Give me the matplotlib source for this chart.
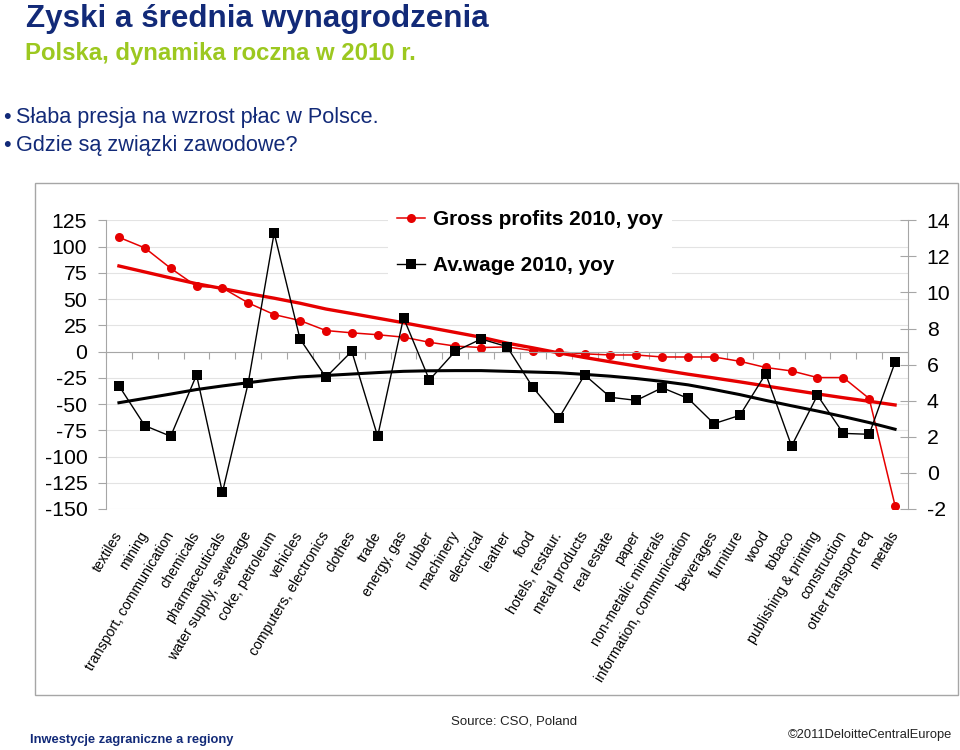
import numpy as np
import matplotlib
matplotlib.use('Agg')
import matplotlib.pyplot as plt
from matplotlib import font_manager as fm
from matplotlib.lines import Line2D
from matplotlib.patches import Rectangle

categories = ["textiles", "mining", "transport, communication", "chemicals",
              "pharmaceuticals", "water supply, sewerage", "coke, petroleum",
              "vehicles", "computers, electronics", "clothes", "trade",
              "energy, gas", "rubber", "machinery", "electrical", "leather",
              "food", "hotels, restaur.", "metal products", "real estate",
              "paper", "non-metalic minerals", "information, communication",
              "beverages", "furniture", "wood", "tobaco",
              "publishing & printing", "construction", "other transport eq",
              "metals"]

gross_profits = [108.8, 98.7, 79.3, 62.2, 60.6, 46.3, 35.2, 29.5, 20.0, 17.8,
                 16.0, 13.7, 8.8, 5.2, 3.8, 4.4, 0.8, -0.4, -2.2, -3.3,
                 -3.3, -5.2, -5.2, -5.2, -9.3, -15.2, -18.5, -24.8, -24.8,
                 -44.8, -146.8]

av_wage = [4.83, 2.62, 2.03, 5.43, -1.08, 5.00, 13.30, 7.42, 5.30, 6.74,
           2.03, 8.60, 5.15, 6.74, 7.42, 7.00, 4.74, 3.02, 5.43, 4.19,
           4.02, 4.72, 4.13, 2.73, 3.19, 5.49, 1.49, 4.30, 2.19, 2.14, 6.13]

profits_trend = [81.5, 75.8, 70.1, 64.6, 60.0, 55.2, 50.8, 46.0, 40.5, 36.2,
                 31.8, 27.4, 22.8, 18.2, 13.6, 8.0, 3.5, -1.3, -5.7, -9.8,
                 -13.8, -17.7, -21.6, -25.2, -28.9, -32.8, -36.6, -40.4,
                 -44.0, -47.4, -50.9]

wage_trend = [3.89, 4.13, 4.37, 4.62, 4.82, 5.00, 5.18, 5.32, 5.40, 5.48,
              5.56, 5.63, 5.66, 5.67, 5.67, 5.63, 5.59, 5.55, 5.46, 5.36,
              5.23, 5.07, 4.88, 4.62, 4.34, 4.02, 3.72, 3.43, 3.12, 2.79,
              2.42]

left_ticks = [125, 100, 75, 50, 25, 0, -25, -50, -75, -100, -125, -150]
right_ticks = [14, 12, 10, 8, 6, 4, 2, 0, -2]

legend_labels = ["Gross profits 2010, yoy", "Av.wage 2010, yoy"]

names = {f.name for f in fm.fontManager.ttflist}
HAS_NARROW = 'Liberation Sans Narrow' in names
BASE = 'Liberation Sans'
NARROW = 'Liberation Sans Narrow' if HAS_NARROW else BASE
k = 1.0 if HAS_NARROW else 0.83

plt.rcParams['font.family'] = [BASE, 'DejaVu Sans']
plt.rcParams['axes.unicode_minus'] = False

W, H = 960, 750
fig = plt.figure(figsize=(9.6, 7.5), dpi=100)


def fx(px):
    return px / W


def fy(py):
    return 1 - py / H


NAVY = '#122a78'
GREEN = '#9cc820'
RED = '#e60000'
GREY = '#a6a6a6'

fig.text(fx(26), fy(27), 'Zyski a średnia wynagrodzenia', fontsize=22.6,
         fontweight='bold', color=NAVY, va='baseline')
fig.text(fx(25), fy(60), 'Polska, dynamika roczna w 2010 r.', fontsize=17.2,
         fontweight='bold', color=GREEN, va='baseline')
fig.text(fx(3), fy(122.7), '•', fontsize=15.6, color=NAVY, va='baseline')
fig.text(fx(16), fy(122.7), 'Słaba presja na wzrost płac w Polsce.',
         fontsize=15.6, color=NAVY, va='baseline')
fig.text(fx(3), fy(150.7), '•', fontsize=15.6, color=NAVY, va='baseline')
fig.text(fx(16), fy(150.7), 'Gdzie są związki zawodowe?',
         fontsize=15.6, color=NAVY, va='baseline')

fig.patches.append(Rectangle((fx(35), fy(695)), fx(923), (695 - 183) / H,
                             transform=fig.transFigure, fill=False,
                             edgecolor=GREY, lw=1.0))

fig.text(fx(30), fy(743), 'Inwestycje zagraniczne a regiony', fontsize=9.3,
         fontweight='bold', color=NAVY, va='baseline', family=NARROW)
fig.text(fx(451), fy(725), 'Source: CSO, Poland', fontsize=9.5,
         color='#222222', va='baseline')
fig.text(fx(952), fy(738), '©2011DeloitteCentralEurope', fontsize=9.3,
         color='#222222', va='baseline', ha='right')

ax = fig.add_axes([fx(106), fy(509), fx(908 - 106), (509 - 220.3) / H])
x = np.arange(len(categories))
ax.set_xlim(-0.5, len(categories) - 0.5)
ax.set_ylim(-150, 125)
ax.set_yticks(left_ticks)
ax.grid(axis='y', color='#e3e3e3', lw=0.8)
ax.set_axisbelow(True)
for s in ['top', 'right']:
    ax.spines[s].set_visible(False)
ax.spines['left'].set_color(GREY)
ax.spines['bottom'].set_position(('data', 0))
ax.spines['bottom'].set_color(GREY)
ax.set_xticks(np.arange(-0.5, len(categories), 1.0))
ax.tick_params(axis='x', direction='out', length=5, color=GREY,
               labelbottom=False)
ax.tick_params(axis='y', direction='out', length=5.5, color=GREY, pad=8,
               labelsize=18.5 * k, labelfontfamily=NARROW)

sec = ax.secondary_xaxis(0.0)
sec.set_xticks(x, labels=categories)
sec.tick_params(length=0, pad=17, labelsize=12.3 * k, labelfontfamily=NARROW)
sec.spines['bottom'].set_visible(False)
for lbl in sec.get_xticklabels():
    lbl.set_rotation(59)
    lbl.set_ha('right')
    lbl.set_va('center')
    lbl.set_rotation_mode('anchor')

ax.plot(x, gross_profits, color=RED, lw=1.1, marker='o', ms=6.5,
        markeredgewidth=0)
ax.plot(x, profits_trend, color=RED, lw=2.4)

ax2 = ax.twinx()
ax2.set_ylim(-2, 14)
ax2.set_yticks(right_ticks)
for s in ['top', 'left', 'bottom']:
    ax2.spines[s].set_visible(False)
ax2.spines['right'].set_color(GREY)
ax2.tick_params(axis='y', direction='inout', length=11, color=GREY, pad=8,
                labelsize=18.5 * k, labelfontfamily=NARROW)
ax2.plot(x, wage_trend, color='black', lw=2.2)
ax2.plot(x, av_wage, color='black', lw=1.0, marker='s', ms=6.5,
         markeredgewidth=0)

handles = [Line2D([], [], color=RED, lw=1.1, marker='o', ms=6.5,
                  markeredgewidth=0),
           Line2D([], [], color='black', lw=1.0, marker='s', ms=6.5,
                  markeredgewidth=0)]
leg = ax2.legend(handles, legend_labels, loc='upper left',
                 bbox_to_anchor=(fx(388), fy(201)),
                 bbox_transform=fig.transFigure, frameon=True,
                 fancybox=False, edgecolor='none', facecolor='white',
                 framealpha=1, borderaxespad=0, borderpad=0.45,
                 handlelength=1.35, handletextpad=0.35, labelspacing=1.3,
                 prop={'family': NARROW, 'weight': 'bold', 'size': 18 * k})

fig.savefig('out.png', dpi=100, facecolor='white')
